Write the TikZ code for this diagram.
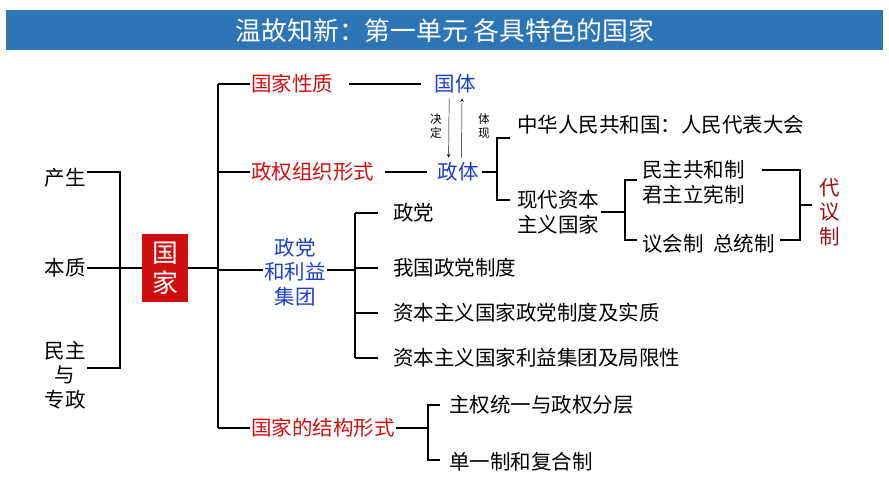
\documentclass[tikz,border=0pt]{standalone}
\usepackage{fontspec}
\setmainfont{Noto Sans CJK SC}
\usetikzlibrary{positioning}
\definecolor{titleblue}{HTML}{2E75B6}
\definecolor{keyred}{HTML}{D01010}
\definecolor{darkred}{HTML}{A01010}
\definecolor{keyblue}{HTML}{1F3FC8}
\tikzset{
  txt/.style = {inner sep=1pt, font=\fontsize{17.5}{21}\selectfont},
  lft/.style = {txt, anchor=west},
  redtxt/.style = {txt, text=keyred},
  bluetxt/.style = {txt, text=keyblue, align=center},
  small/.style = {inner sep=0pt, font=\fontsize{10}{12}\selectfont, align=center},
  brk/.style = {line width=1.3pt},
  arrow/.style = {->, >=stealth, thin}
}
\begin{document}
\begin{tikzpicture}[x=0.03cm,y=-0.03cm]
\useasboundingbox (0,0) rectangle (889,500);
% title
\fill[titleblue] (6,10) rectangle (883,50);
\node[text=white, font=\fontsize{22}{26}\selectfont] (title) at (445,31) {温故知新：第一单元\ 各具特色的国家};
% left side
\node[txt] (chan) at (65,178) {产生};
\node[txt] (benz) at (65,268) {本质};
\node[txt, align=center] (minz) at (65,375) {民主\\与\\专政};
\coordinate (l1) at (120,172); \coordinate (l2) at (120,268); \coordinate (l3) at (120,368);
\draw[brk] (chan.east |- l1) -- (l1) -- (l3) -- (minz.east |- l3);
\draw[brk] (benz.east) -- (l2);
\node[fill=keyred, text=white, minimum width=39pt, minimum height=58pt, align=center,
  font=\fontsize{22}{26}\selectfont, inner sep=0pt] (guoj) at (165,268) {国\\家};
\draw[brk] (l2) -- (guoj.west);
% trunk
\coordinate (t1) at (218,84); \coordinate (t2) at (218,172);
\coordinate (t3) at (218,270); \coordinate (t4) at (218,428);
\draw[brk] (guoj.east) -- (guoj.east -| t1);
\draw[brk] (t1) -- (t4);
\node[redtxt, anchor=west] (xingz) at (250,84) {国家性质};
\node[redtxt, anchor=west] (zuzh) at (250,172) {政权组织形式};
\node[bluetxt] (zhengd) at (295,272) {政党\\和利益\\集团};
\node[redtxt, anchor=west] (jieg) at (250,428) {国家的结构形式};
\foreach \t/\n in {t1/xingz, t2/zuzh, t4/jieg} \draw[brk] (\t) -- (\n.west);
\draw[brk] (t3) -- (t3 -| zhengd.west);
% guoti / zhengti
\node[bluetxt] (guoti) at (455,84) {国体};
\node[bluetxt] (zhengti) at (458,172) {政体};
\draw[brk] ([xshift=12]xingz.east) -- ([xshift=-10]guoti.west);
\draw[brk] ([xshift=8]zuzh.east) -- ([xshift=-8]zhengti.west);
\draw[arrow] ([xshift=-5,yshift=-3]guoti.south) -- ([xshift=-8,yshift=3]zhengti.north);
\draw[arrow] ([xshift=3,yshift=3]zhengti.north) -- ([xshift=6,yshift=-3]guoti.south);
\node[small] (jued) at (436,126) {决\\定};
\node[small] (tix) at (484,126) {体\\现};
% zhengti branches
\coordinate (z1) at (497,138); \coordinate (z2) at (497,200);
\draw[brk] ([xshift=2]zhengti.east) -- (zhengti.east -| z1);
\draw[brk] (510,138) -- (z1) -- (z2) -- (510,200);
\node[lft] (renda) at (516,125) {中华人民共和国：人民代表大会};
\node[txt, align=left, anchor=west] (xiand) at (516,212) {现代资本\\主义国家};
\coordinate (x1) at (625,180); \coordinate (x2) at (625,240);
\draw[brk] (xiand.east) -- (xiand.east -| x1);
\draw[brk] (637,180) -- (x1) -- (x2) -- (637,240);
\node[txt, align=left, anchor=west] (gongh) at (641,182) {民主共和制\\君主立宪制};
\node[lft] (yih) at (641,244) {议会制\ \ 总统制};
\coordinate (d1) at (800,170); \coordinate (d2) at (800,240);
\draw[brk] (762,170) -- (d1) -- (d2) -- ([xshift=3]yih.east |- d2);
\draw[brk] (800,205) -- (812,205);
\node[txt, text=darkred, align=center] (daiy) at (830,212) {代\\议\\制};
% zhengdang branches
\coordinate (p1) at (355,213); \coordinate (p4) at (355,358);
\draw[brk] (zhengd.east |- t3) -- (355,270);
\draw[brk] (p1) -- (p4);
\node[lft] (pa) at (392,213) {政党};
\node[lft] (pb) at (392,268) {我国政党制度};
\node[lft] (pc) at (392,313) {资本主义国家政党制度及实质};
\node[lft] (pd) at (392,358) {资本主义国家利益集团及局限性};
\foreach \n in {pa,pb,pc,pd} \draw[brk] (355,0 |- \n) -- ([xshift=-12]\n.west);
% jiegou branches
\coordinate (j1) at (428,405); \coordinate (j2) at (428,460);
\draw[brk] (jieg.east) -- (jieg.east -| j1);
\draw[brk] (440,405) -- (j1) -- (j2) -- (440,460);
\node[lft] (zhuq) at (448,405) {主权统一与政权分层};
\node[lft] (dany) at (448,462) {单一制和复合制};
\end{tikzpicture}
\end{document}
